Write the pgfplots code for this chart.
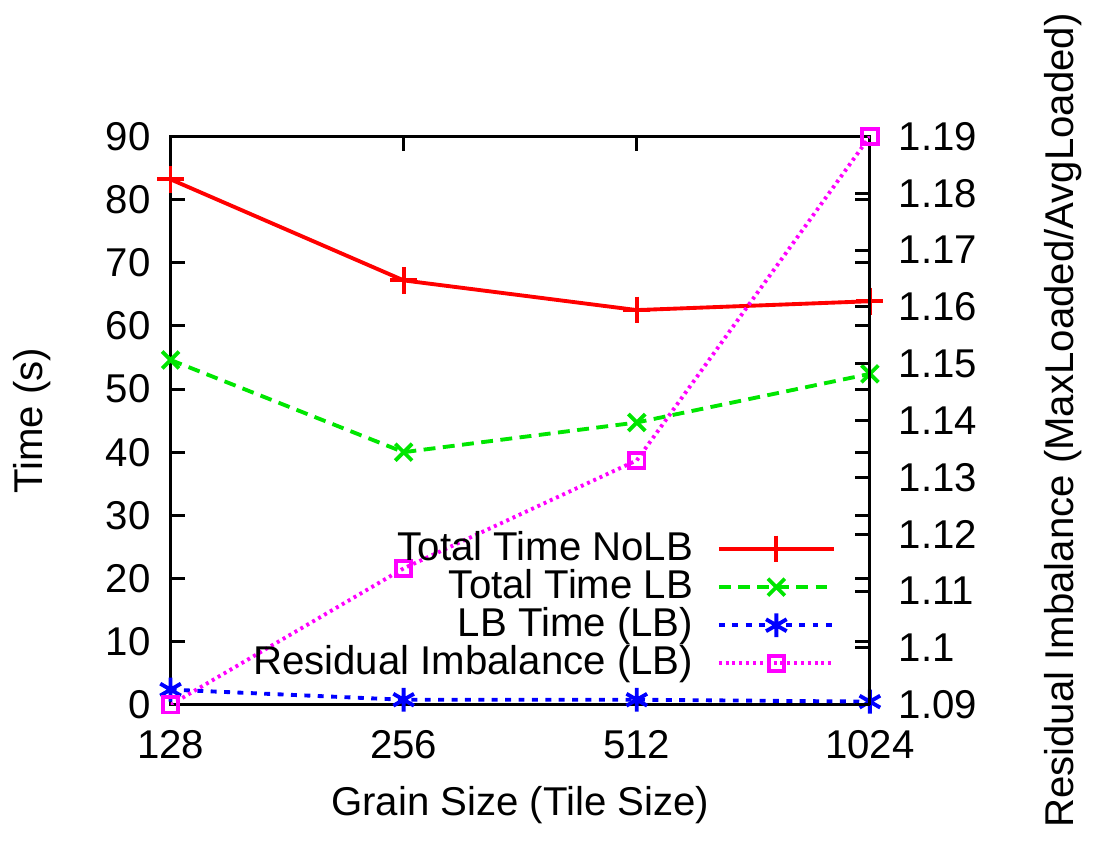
\documentclass[border=0pt]{standalone}
\usepackage{pgfplots}
\pgfplotsset{compat=1.18}
\usepackage{fontspec}
\setmainfont{Liberation Sans}
\definecolor{gpred}{RGB}{255,0,0}
\definecolor{gpgreen}{RGB}{0,230,0}
\definecolor{gpblue}{RGB}{0,0,255}
\definecolor{gpmag}{RGB}{255,0,255}
\newcommand{\gpfont}{\fontsize{13.5}{15.5}\selectfont}
\begin{document}
\gpfont
\begin{tikzpicture}
\pgfplotsset{
  common/.style={
    width=235pt, height=191pt, scale only axis,
    xmin=0, xmax=3,
    xtick={0,1,2,3}, xticklabels={128,256,512,1024},
    tick align=inside, major tick length=5pt,
    axis line style={line width=1pt}, every tick/.style={line width=1pt, black},
    /pgf/number format/assume math mode=true,
    tick label style={font=\gpfont},
    label style={font=\gpfont},
  },
  legend image code/.code={\draw[mark repeat=2,mark phase=2] plot coordinates {(0cm,0cm) (0.68cm,0cm) (1.36cm,0cm)};},
}
\begin{axis}[common,
  ymin=0, ymax=90, ytick={0,10,...,90},
  xtick pos=both, ytick pos=both,
  yticklabel style={xshift=-2pt},
  xticklabel style={yshift=-4pt},
  xlabel={Grain Size (Tile Size)}, ylabel={Time (s)},
  every axis x label/.style={at={(axis description cs:0.5,-0.176)}, anchor=center},
  every axis y label/.style={at={(axis description cs:-0.198,0.5)}, rotate=90, anchor=center},
]
\addplot[gpred, line width=1.3pt, mark=+, mark size=4.5pt, mark options={solid}] coordinates {(0,83.2) (1,67.2) (2,62.5) (3,63.9)};
\addplot[gpgreen, line width=1.3pt, dash pattern=on 4pt off 2.5pt, mark=x, mark size=4pt, mark options={solid}] coordinates {(0,54.6) (1,40.0) (2,44.7) (3,52.4)};
\addplot[gpblue, line width=1.3pt, dash pattern=on 2pt off 2.5pt, mark=asterisk, mark size=4pt, mark options={solid}] coordinates {(0,2.4) (1,0.8) (2,0.8) (3,0.5)};
\end{axis}
\begin{axis}[common,
  ymin=1.09, ymax=1.19,
  ytick={1.09,1.10,1.11,1.12,1.13,1.14,1.15,1.16,1.17,1.18,1.19},
  yticklabels={1.09,1.1,1.11,1.12,1.13,1.14,1.15,1.16,1.17,1.18,1.19},
  axis y line*=right, axis x line=none,
  yticklabel style={xshift=5pt},
  ylabel={Residual Imbalance (MaxLoaded/AvgLoaded)},
  every axis y label/.style={at={(axis description cs:1.276,0.5)}, rotate=90, anchor=center},
  legend plot pos=right, legend cell align=right,
  legend style={draw=none, fill=none, at={(axis description cs:0.965,0.02)}, anchor=south east, font=\gpfont, row sep=-3pt, column sep=6pt},
]
\addlegendimage{gpred, line width=1.3pt, mark=+, mark size=4.5pt, mark options={solid}}
\addlegendentry{Total Time NoLB}
\addlegendimage{gpgreen, line width=1.3pt, dash pattern=on 4pt off 2.5pt, mark=x, mark size=4pt, mark options={solid}}
\addlegendentry{Total Time LB}
\addlegendimage{gpblue, line width=1.3pt, dash pattern=on 2pt off 2.5pt, mark=asterisk, mark size=4pt, mark options={solid}}
\addlegendentry{LB Time (LB)}
\addplot[gpmag, line width=1.3pt, dash pattern=on 1pt off 1.3pt, mark=square, mark size=2.6pt, mark options={solid}] coordinates {(0,1.090) (1,1.114) (2,1.133) (3,1.190)};
\addlegendentry{Residual Imbalance (LB)}
\end{axis}
\end{tikzpicture}
\end{document}
